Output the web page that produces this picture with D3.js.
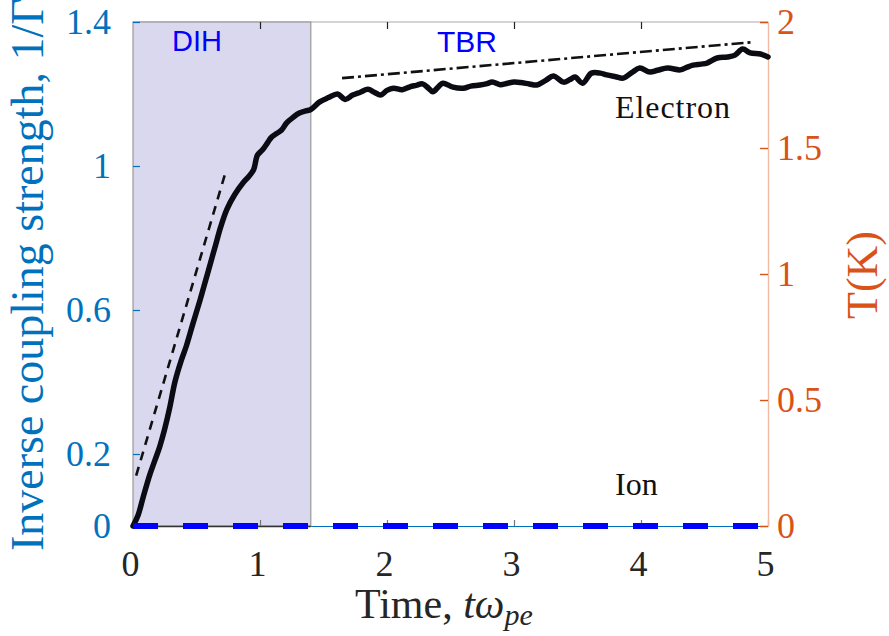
<!DOCTYPE html>
<html>
<head>
<meta charset="utf-8">
<script src="https://cdn.jsdelivr.net/npm/d3@7"></script>
<style>
  html, body { margin: 0; padding: 0; background: #fff; }
  svg { display: block; }
</style>
</head>
<body>
<svg id="chart" width="889" height="636"></svg>
<script>
// ---------------- data ----------------
const electronT = [0, 0.04, 0.08, 0.13, 0.17, 0.21, 0.25, 0.29, 0.33, 0.38, 0.42, 0.47, 0.53, 0.57, 0.61, 0.65, 0.69, 0.74, 0.80, 0.87, 0.91, 0.95, 0.98, 1.02, 1.06, 1.09, 1.13, 1.17, 1.21, 1.26, 1.31, 1.36, 1.40,
  1.47, 1.54, 1.61, 1.67, 1.73, 1.79, 1.85, 1.90, 1.95, 2.00, 2.05, 2.12, 2.18, 2.23, 2.28, 2.33, 2.36, 2.41, 2.44, 2.52, 2.60, 2.66, 2.73, 2.78, 2.83, 2.89, 2.95, 3.00, 3.05, 3.12, 3.18, 3.25, 3.31, 3.39, 3.44, 3.48, 3.54, 3.61, 3.68, 3.73, 3.80, 3.86, 3.93, 3.99, 4.07, 4.13, 4.21, 4.31, 4.36, 4.41, 4.47, 4.52, 4.60, 4.68, 4.74, 4.80, 4.86, 4.94, 5.00];
const electronV = [0, 0.03, 0.08, 0.14, 0.18, 0.22, 0.27, 0.33, 0.40, 0.46, 0.50, 0.56, 0.63, 0.68, 0.73, 0.78, 0.83, 0.88, 0.92, 0.955, 0.97, 0.99, 1.03, 1.045, 1.065, 1.08, 1.09, 1.10, 1.12, 1.135, 1.147, 1.153, 1.157,
  1.178, 1.19, 1.20, 1.185, 1.197, 1.205, 1.213, 1.205, 1.197, 1.21, 1.216, 1.212, 1.22, 1.224, 1.228, 1.215, 1.206, 1.222, 1.23, 1.219, 1.216, 1.222, 1.225, 1.228, 1.233, 1.226, 1.23, 1.233, 1.232, 1.228, 1.225, 1.238, 1.25, 1.233, 1.24, 1.247, 1.23, 1.258, 1.258, 1.253, 1.248, 1.244, 1.26, 1.272, 1.261, 1.266, 1.272, 1.267, 1.274, 1.28, 1.283, 1.286, 1.30, 1.303, 1.308, 1.325, 1.314, 1.311, 1.303];
const ionT = [0, 1, 2, 3, 4, 5];
const ionV = [0, 0, 0, 0, 0, 0];
const dihFitT = [0.025, 0.735];
const dihFitV = [0.14, 0.99];
const tbrFitT = [1.646, 4.88];
const tbrFitV = [1.244, 1.344];
const dihRegion = [0, 1.4];
const xTicks = [0, 1, 2, 3, 4, 5];
const leftTicks = [0, 0.2, 0.6, 1, 1.4];
const rightTicks = [0, 0.5, 1, 1.5, 2];
const leftTickLabels = ["0", "0.2", "0.6", "1", "1.4"];
const rightTickLabels = ["0", "0.5", "1", "1.5", "2"];

// ---------------- setup ----------------
const svg = d3.select("#chart");
const L = 133, R = 768, T = 22, B = 526;
const x = d3.scaleLinear().domain([0, 5]).range([L, R]);
const yL = d3.scaleLinear().domain([0, 1.4]).range([B, T]);
const yR = d3.scaleLinear().domain([0, 2]).range([B, T]);
const BLUE = "#0072BD", ORANGE = "#D95319";
const serif = "'Liberation Serif', 'Times New Roman', serif";
const sans = "'Liberation Sans', Arial, sans-serif";

// top border
svg.append("line").attr("x1", L).attr("x2", R).attr("y1", T).attr("y2", T)
  .attr("stroke", "#aaaaaa").attr("stroke-width", 1.2);

// bottom thin blue line
svg.append("line").attr("x1", x(dihRegion[1])).attr("x2", R).attr("y1", B + 0.5).attr("y2", B + 0.5)
  .attr("stroke", BLUE).attr("stroke-width", 1.2);

// shaded DIH region
svg.append("rect")
  .attr("x", x(dihRegion[0])).attr("y", T)
  .attr("width", x(dihRegion[1]) - x(dihRegion[0])).attr("height", B - T)
  .attr("fill", "#d9d8ee").attr("stroke", "#9a9a9a").attr("stroke-width", 1.2);
svg.append("line").attr("x1", x(dihRegion[0])).attr("x2", x(dihRegion[1])).attr("y1", B + 0.5).attr("y2", B + 0.5)
  .attr("stroke", "#333").attr("stroke-width", 1.4);

// top ticks
const topAxis = svg.append("g").attr("transform", `translate(0,${T})`)
  .call(d3.axisTop(x).tickValues([1, 2, 3, 4]).tickSize(-7).tickFormat(""));
topAxis.select(".domain").remove();
topAxis.selectAll(".tick line").attr("stroke", "#222").attr("stroke-width", 1.2);

// bottom axis
const botAxis = svg.append("g").attr("transform", `translate(0,${B})`)
  .call(d3.axisBottom(x).tickValues(xTicks).tickSize(-6).tickPadding(24).tickFormat(d3.format("d")));
botAxis.select(".domain").remove();
botAxis.selectAll(".tick line").attr("stroke", "#777").attr("stroke-width", 1.2);
botAxis.selectAll(".tick text").attr("font-family", serif).attr("font-size", 36).attr("fill", "#262626")
  .attr("dx", -3);

// left axis
const leftAxis = svg.append("g").attr("transform", `translate(${L},0)`)
  .call(d3.axisLeft(yL).tickValues(leftTicks).tickSize(-7).tickPadding(22)
    .tickFormat((d, i) => leftTickLabels[i]));
leftAxis.select(".domain").remove();
leftAxis.selectAll(".tick line").attr("stroke", BLUE).attr("stroke-width", 1.2);
leftAxis.selectAll(".tick text").attr("font-family", serif).attr("font-size", 36).attr("fill", BLUE);

// right axis
const rightAxis = svg.append("g").attr("transform", `translate(${R},0)`)
  .call(d3.axisRight(yR).tickValues(rightTicks).tickSize(-8).tickPadding(9)
    .tickFormat((d, i) => rightTickLabels[i]));
rightAxis.select(".domain").attr("stroke", "#f2b9a3").attr("stroke-width", 1.4);
rightAxis.selectAll(".tick line").attr("stroke", ORANGE).attr("stroke-width", 1.4);
rightAxis.selectAll(".tick text").attr("font-family", serif).attr("font-size", 36).attr("fill", ORANGE);

// lines
const line = d3.line().x(d => x(d[0])).y(d => yL(d[1])).curve(d3.curveCatmullRom.alpha(0.5));
const lineStraight = d3.line().x(d => x(d[0])).y(d => yL(d[1]));

svg.append("path").datum(dihFitT.map((t, i) => [t, dihFitV[i]]))
  .attr("d", lineStraight).attr("fill", "none").attr("stroke", "#111")
  .attr("stroke-width", 2.6).attr("stroke-dasharray", "9,7");

svg.append("path").datum(tbrFitT.map((t, i) => [t, tbrFitV[i]]))
  .attr("d", lineStraight).attr("fill", "none").attr("stroke", "#111")
  .attr("stroke-width", 2.6).attr("stroke-dasharray", "12,4,3,4");

svg.append("path").datum(electronT.map((t, i) => [t, electronV[i]]))
  .attr("d", line).attr("fill", "none").attr("stroke", "#0b0b14")
  .attr("stroke-width", 5.5).attr("stroke-linejoin", "round").attr("stroke-linecap", "round");

svg.append("path").datum(ionT.map((t, i) => [t, ionV[i]]))
  .attr("d", lineStraight).attr("fill", "none").attr("stroke", "#0000ff")
  .attr("stroke-width", 6).attr("stroke-dasharray", "25,25");

// annotations
svg.append("text").attr("x", 172).attr("y", 51).attr("font-family", sans).attr("font-size", 29)
  .attr("fill", "#0000ff").text("DIH");
svg.append("text").attr("x", 437).attr("y", 52).attr("font-family", sans).attr("font-size", 30)
  .attr("fill", "#0000ff").text("TBR");
svg.append("text").attr("x", 615).attr("y", 118).attr("font-family", serif).attr("font-size", 32)
  .attr("fill", "#111").attr("textLength", 115).text("Electron");
svg.append("text").attr("x", 615).attr("y", 495).attr("font-family", serif).attr("font-size", 32)
  .attr("fill", "#111").text("Ion");

// axis labels
const xl = svg.append("text").attr("x", 355).attr("y", 618).attr("font-family", serif)
  .attr("font-size", 42).attr("fill", "#262626");
xl.append("tspan").text("Time, ");
xl.append("tspan").attr("font-style", "italic").text("tω");
xl.append("tspan").attr("font-style", "italic").attr("font-size", 30).attr("dy", 7).text("pe");

svg.append("text").attr("transform", "translate(43,551) rotate(-90)")
  .attr("font-family", serif).attr("font-size", 46).attr("fill", BLUE)
  .text("Inverse coupling strength, 1/Γ");

svg.append("text").attr("transform", "translate(877,275) rotate(-90)")
  .attr("text-anchor", "middle").attr("font-family", serif).attr("font-size", 44).attr("fill", ORANGE)
  .text("T(K)");
</script>
</body>
</html>
